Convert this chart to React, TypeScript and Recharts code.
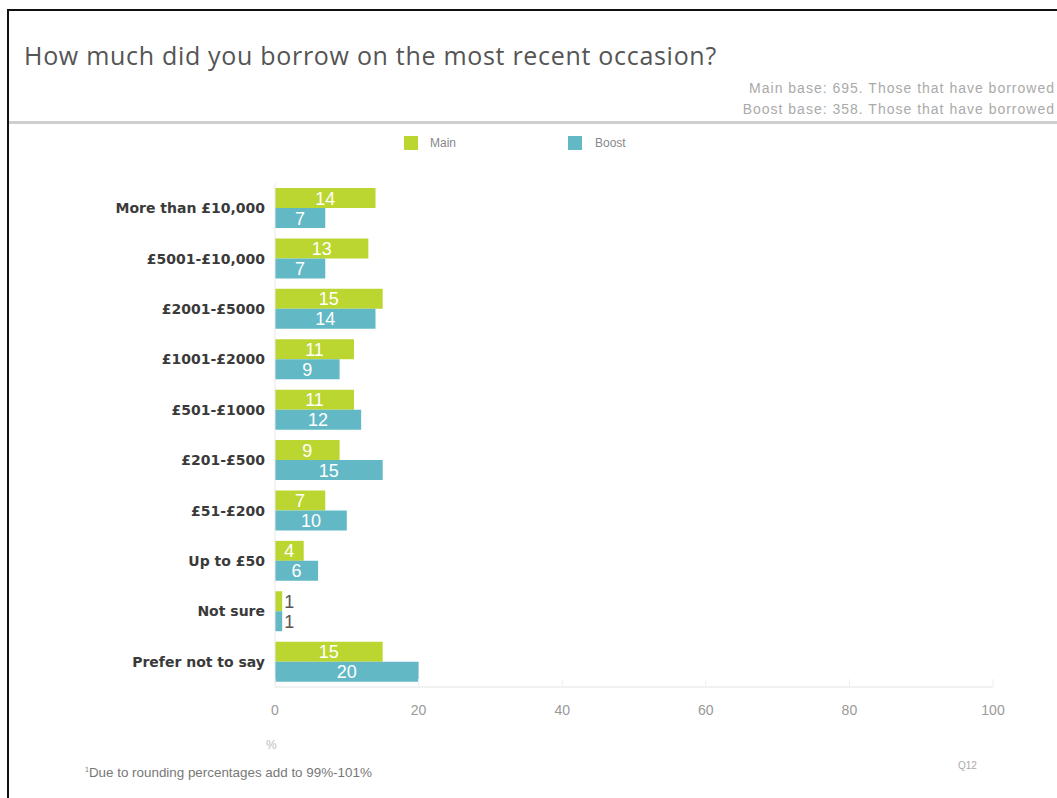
import React from "react";
import { BarChart, Bar, XAxis, YAxis, LabelList } from "recharts";

const categories = [
  "More than £10,000",
  "£5001-£10,000",
  "£2001-£5000",
  "£1001-£2000",
  "£501-£1000",
  "£201-£500",
  "£51-£200",
  "Up to £50",
  "Not sure",
  "Prefer not to say",
];
const mainValues = [14, 13, 15, 11, 11, 9, 7, 4, 1, 15];
const boostValues = [7, 7, 14, 9, 12, 15, 10, 6, 1, 20];
const xTicks = [0, 20, 40, 60, 80, 100];

const data = categories.map((c, i) => ({ name: c, main: mainValues[i], boost: boostValues[i] }));

const GREEN = "#bcd631";
const TEAL = "#62b9c5";

const renderLabel = (props: any) => {
  const { x, y, width, height, value } = props;
  if (value <= 2) {
    return (
      <text x={x + width + 2} y={y + height / 2} dy="0.36em" fill="#555" fontSize={18}
        fontFamily="Liberation Sans Narrow, Liberation Sans, sans-serif" textAnchor="start">{value}</text>
    );
  }
  return (
    <text x={x + width / 2} y={y + height / 2} dy="0.36em" fill="#fff" fontSize={18}
      fontFamily="Liberation Sans Narrow, Liberation Sans, sans-serif" textAnchor="middle">{value}</text>
  );
};

const YTick = (props: any) => {
  const { x, y, payload } = props;
  return (
    <text x={x} y={y} dy="0.36em" textAnchor="end" fill="#3a3a3a" fontSize={14} fontWeight="bold"
      fontFamily="DejaVu Sans, Verdana, sans-serif">{payload.value}</text>
  );
};

const XTick = (props: any) => {
  const { x, y, payload } = props;
  return (
    <g>
      <line x1={x} x2={x} y1={687} y2={679} stroke="#f0f0f0" strokeWidth={1} />
      <text x={x} y={y} dy="0.71em" textAnchor="middle" fill="#999" fontSize={14}
        fontFamily="Liberation Sans Narrow, Liberation Sans, sans-serif">{payload.value}</text>
    </g>
  );
};

export default function App() {
  return (
    <div style={{ position: "absolute", left: 0, top: 0, width: 1057, height: 798, overflow: "hidden", background: "#fff" }}>
      <div style={{ position: "absolute", left: 7, top: 9, width: 1200, height: 1000, borderTop: "2px solid #111", borderLeft: "2px solid #111" }} />
      <div style={{ position: "absolute", left: 24, top: 38, fontFamily: "Open Sans, sans-serif", fontSize: 25, letterSpacing: 0.7, color: "#555", whiteSpace: "nowrap" }}>
        How much did you borrow on the most recent occasion?
      </div>
      <div style={{ position: "absolute", right: 2, top: 78, fontFamily: "Liberation Sans, Arial, sans-serif", fontSize: 14, letterSpacing: 1, color: "#aaa", textAlign: "right", lineHeight: "21px", whiteSpace: "nowrap" }}>
        <div>Main base: 695. Those that have borrowed</div>
        <div>Boost base: 358. Those that have borrowed</div>
      </div>
      <div style={{ position: "absolute", left: 9, top: 121, width: 1100, height: 3, background: "#cfcfcf" }} />
      <div style={{ position: "absolute", left: 404, top: 136, width: 14, height: 14, background: GREEN }} />
      <div style={{ position: "absolute", left: 430, top: 136, fontFamily: "Liberation Sans, Arial, sans-serif", fontSize: 12, color: "#888" }}>Main</div>
      <div style={{ position: "absolute", left: 568, top: 136, width: 14, height: 14, background: TEAL }} />
      <div style={{ position: "absolute", left: 595, top: 136, fontFamily: "Liberation Sans, Arial, sans-serif", fontSize: 12, color: "#888" }}>Boost</div>

      <div style={{ position: "absolute", left: 0, top: 0 }}>
        <BarChart width={1057} height={798} data={data} layout="vertical"
          margin={{ top: 183, right: 64, bottom: 81, left: 75 }} barGap={0} barCategoryGap="10%">
          <XAxis type="number" domain={[0, 100]} ticks={xTicks} axisLine={{ stroke: "#e3e3e3" }} tickLine={false}
            tick={<XTick />} tickMargin={12} interval={0} height={30} />
          <YAxis type="category" dataKey="name" width={200} axisLine={{ stroke: "#e8e8e8" }} tickLine={false}
            tick={<YTick />} tickMargin={4} interval={0} />
          <Bar dataKey="main" fill={GREEN} isAnimationActive={false}>
            <LabelList dataKey="main" content={renderLabel} />
          </Bar>
          <Bar dataKey="boost" fill={TEAL} isAnimationActive={false}>
            <LabelList dataKey="boost" content={renderLabel} />
          </Bar>
        </BarChart>
      </div>

      <div style={{ position: "absolute", left: 266, top: 738, fontFamily: "Liberation Sans, Arial, sans-serif", fontSize: 12, color: "#bbb" }}>%</div>
      <div style={{ position: "absolute", left: 85, top: 765, fontFamily: "Liberation Sans, Arial, sans-serif", fontSize: 13.4, color: "#777", whiteSpace: "nowrap" }}>
        <sup style={{ fontSize: 7 }}>1</sup>Due to rounding percentages add to 99%-101%
      </div>
      <div style={{ position: "absolute", left: 958, top: 760, fontFamily: "Liberation Sans, Arial, sans-serif", fontSize: 10, color: "#aaa" }}>Q12</div>
    </div>
  );
}
